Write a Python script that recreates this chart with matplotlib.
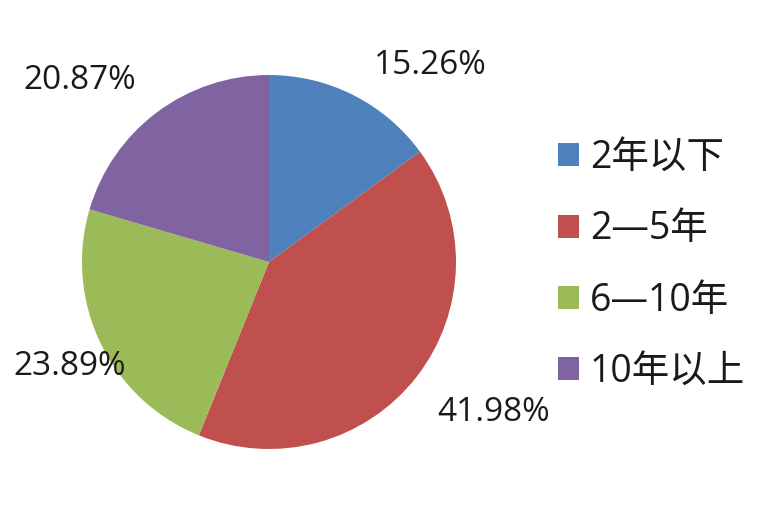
import matplotlib
matplotlib.use("Agg")
import matplotlib.pyplot as plt

# Work-experience share (percent)
categories = ["2年以下", "2—5年", "6—10年", "10年以上"]
shares = [15.26, 41.98, 23.89, 20.87]
colors = ["#4F81BD", "#C0504D", "#9BBB59", "#8064A2"]

# Label anchor points (in units of pie radius) and baseline offsets
label_pos = [(0.861, 1.005), (1.203, -0.850), (-1.064, -0.604), (-1.011, 0.925)]

plt.rcParams["font.family"] = ["Open Sans", "Noto Sans CJK SC", "DejaVu Sans"]

W, H = 781, 525
fig = plt.figure(figsize=(W / 100, H / 100), dpi=100)
fig.patch.set_facecolor("white")

cx, cy, r = 269, 262, 187
ax = fig.add_axes([(cx - r) / W, (H - cy - r) / H, 2 * r / W, 2 * r / H])
wedges, _ = ax.pie(shares, colors=colors, startangle=90, counterclock=False,
                   radius=1.0, wedgeprops=dict(linewidth=0))
ax.set_xlim(-1, 1)
ax.set_ylim(-1, 1)
ax.set_aspect("equal")

for val, (x, y) in zip(shares, label_pos):
    ax.text(x, y, f"{val:.2f}%", ha="center", va="baseline",
            fontsize=24, color="#1a1a1a", clip_on=False)

leg = fig.legend(wedges, categories, loc="upper left",
                 bbox_to_anchor=(558 / W, 1 - 139 / H),
                 frameon=False, fontsize=27,
                 handlelength=0.56, handleheight=0.56,
                 handletextpad=0.29, labelspacing=0.89,
                 borderaxespad=0, borderpad=0)
for t in leg.get_texts():
    t.set_color("#1a1a1a")

fig.savefig("out.png", dpi=100, facecolor="white")
